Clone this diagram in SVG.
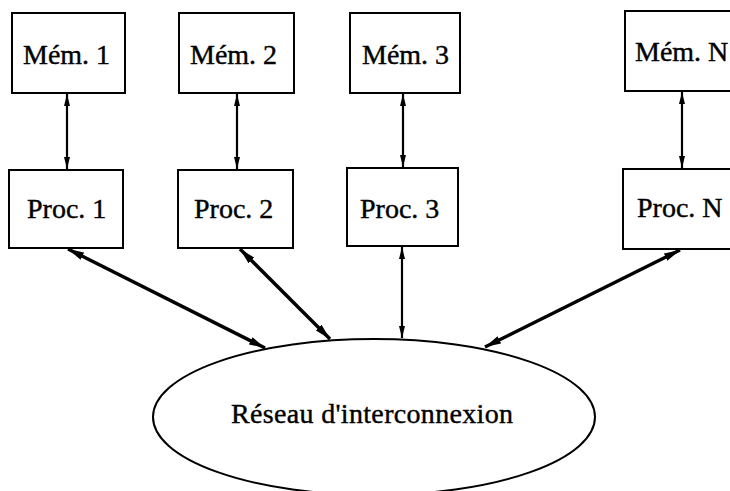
<svg xmlns="http://www.w3.org/2000/svg" width="730" height="491" viewBox="0 0 730 491">
<style>
.box{fill:#fff;stroke:#000;stroke-width:2}
.t{font-family:"Liberation Serif","Times New Roman",serif;font-size:28px;fill:#000;stroke:#000;stroke-width:0.4}
.thin{stroke:#000;stroke-width:2.2;fill:none}
.thick{stroke:#000;stroke-width:3.4;fill:none}
</style>
<defs>
<marker id="ah" viewBox="0 0 12 8" refX="12" refY="4" markerWidth="12" markerHeight="8" markerUnits="userSpaceOnUse" orient="auto-start-reverse">
<path d="M0,1 L12,4 L0,7 Z" fill="#000"/>
</marker>
<marker id="ahb" viewBox="0 0 16 10" refX="16" refY="5" markerWidth="16" markerHeight="10" markerUnits="userSpaceOnUse" orient="auto-start-reverse">
<path d="M0,1 L16,5 L0,9 Z" fill="#000"/>
</marker>
</defs>
<rect width="730" height="491" fill="#fff"/>
<g id="connectors">
<line class="thin" x1="67" y1="94" x2="67" y2="169" marker-start="url(#ah)" marker-end="url(#ah)"/>
<line class="thin" x1="237" y1="94" x2="237" y2="169" marker-start="url(#ah)" marker-end="url(#ah)"/>
<line class="thin" x1="403" y1="94" x2="403" y2="167" marker-start="url(#ah)" marker-end="url(#ah)"/>
<line class="thin" x1="682" y1="92" x2="682" y2="168" marker-start="url(#ah)" marker-end="url(#ah)"/>
<line class="thick" x1="68" y1="249" x2="265" y2="348" marker-start="url(#ahb)" marker-end="url(#ahb)"/>
<line class="thick" x1="240" y1="249" x2="330" y2="339" marker-start="url(#ahb)" marker-end="url(#ahb)"/>
<line class="thin" x1="402" y1="247" x2="402" y2="338" marker-start="url(#ah)" marker-end="url(#ah)"/>
<line class="thick" x1="680" y1="250" x2="485" y2="347" marker-start="url(#ahb)" marker-end="url(#ahb)"/>
</g>
<g id="mem1"><rect class="box" x="12" y="13" width="113" height="80"/><text class="t" x="23" y="64">Mém. 1</text></g>
<g id="mem2"><rect class="box" x="179" y="13" width="115" height="80"/><text class="t" x="190" y="64">Mém. 2</text></g>
<g id="mem3"><rect class="box" x="350" y="13" width="110" height="80"/><text class="t" x="362" y="64">Mém. 3</text></g>
<g id="memN"><rect class="box" x="625" y="11" width="130" height="80"/><text class="t" x="635" y="61">Mém. N</text></g>
<g id="proc1"><rect class="box" x="9" y="170" width="114" height="78"/><text class="t" x="27" y="218">Proc. 1</text></g>
<g id="proc2"><rect class="box" x="178" y="170" width="115" height="78"/><text class="t" x="194" y="218">Proc. 2</text></g>
<g id="proc3"><rect class="box" x="347" y="168" width="111" height="78"/><text class="t" x="360" y="218">Proc. 3</text></g>
<g id="procN"><rect class="box" x="623" y="169" width="130" height="80"/><text class="t" x="637" y="217">Proc. N</text></g>
<g id="reseau"><ellipse class="box" cx="374" cy="417" rx="221" ry="78"/><text class="t" x="231" y="423" textLength="282">Réseau d'interconnexion</text></g>
</svg>
